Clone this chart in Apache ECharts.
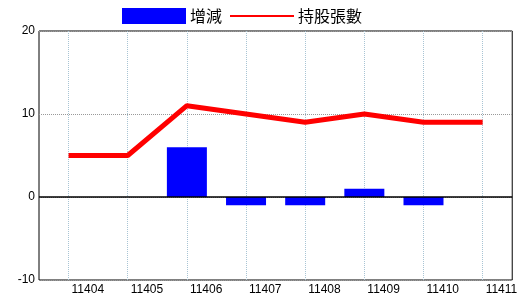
<!DOCTYPE html>
<html><head><meta charset="utf-8">
<script src="https://cdn.jsdelivr.net/npm/echarts@6/dist/echarts.min.js"></script>
<style>html,body{margin:0;padding:0;background:#fff}#c{width:520px;height:300px}</style>
</head><body><div id="c"></div>
<script>
const categories = ['11404','11405','11406','11407','11408','11409','11410','11411'];
const changeValues = [null, null, 6, -1, -1, 1, -1, null];
const holdingValues = [5, 5, 11, 10, 9, 10, 9, 9];
const yTicks = [-10, 0, 10, 20];

const chart = echarts.init(document.getElementById('c'));
chart.setOption({
  animation: false,
  backgroundColor: '#fff',
  legend: {
    left: 122, top: 8, padding: 0,
    itemWidth: 64, itemHeight: 16, itemGap: 7,
    textStyle: { fontFamily: 'Noto Sans CJK TC', fontSize: 16, color: '#000', padding: [0,0,0,-1] },
    data: [
      { name: '增減', icon: 'rect' },
      { name: '持股張數', itemStyle: { opacity: 0 }, lineStyle: { width: 2, color: '#ff0000' } }
    ]
  },
  grid: { left: 39, right: 4, top: 31, bottom: 20, show: true, borderColor: '#000', borderWidth: 1, backgroundColor: 'transparent' },
  xAxis: {
    type: 'category', data: categories, boundaryGap: true,
    axisLine: { show: false }, axisTick: { show: false },
    axisLabel: { align: 'left', padding: [0,0,0,3], margin: 4, color: '#000', fontFamily: 'Liberation Sans', fontSize: 12 },
    splitLine: { show: true, alignWithLabel: true, lineStyle: { color: '#a8c4d4', type: 'dotted', width: 1 } }
  },
  yAxis: {
    type: 'value', min: yTicks[0], max: yTicks[yTicks.length-1], interval: 10,
    axisLine: { show: false }, axisTick: { show: false },
    axisLabel: { margin: 4, color: '#000', fontFamily: 'Liberation Sans', fontSize: 12 },
    splitLine: { show: true, lineStyle: { color: '#999', type: 'dotted', width: 1 } }
  },
  series: [
    {
      name: '增減', type: 'bar', data: changeValues, barWidth: 40,
      itemStyle: { color: '#0000ff' },
      markLine: { silent: true, symbol: 'none', label: { show: false },
        lineStyle: { color: '#000', type: 'solid', width: 1.5 }, data: [{ yAxis: 0 }] }
    },
    {
      name: '持股張數', type: 'line', data: holdingValues, symbol: 'none',
      lineStyle: { color: '#ff0000', width: 5 }, itemStyle: { color: '#ff0000' }
    }
  ]
});
</script></body></html>
